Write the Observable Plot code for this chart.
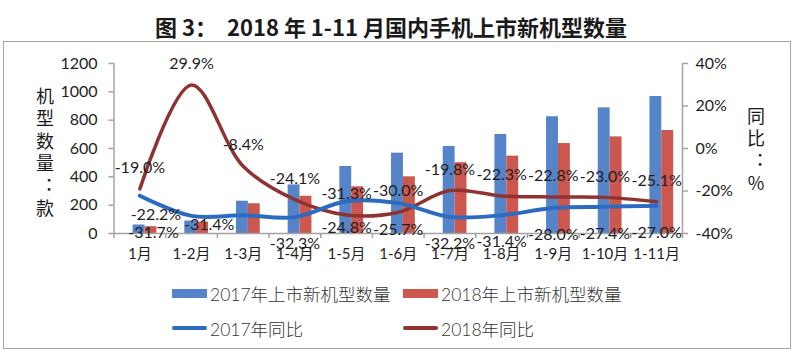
<!DOCTYPE html>
<html>
<head>
<meta charset="utf-8">
<script src="https://cdn.jsdelivr.net/npm/d3@7"></script>
<script src="https://cdn.jsdelivr.net/npm/@observablehq/plot@0.6"></script>
<style>
  html, body { margin: 0; padding: 0; background: #fff; }
  #wrap { position: relative; width: 800px; height: 361px; overflow: hidden; background: #fff; font-family: Lato, "Noto Sans CJK SC", sans-serif; }
  #frame { position: absolute; left: 3px; top: 41px; width: 788px; height: 308px; border: 1.5px solid #a6a6a6; box-sizing: border-box; }
  #title { position: absolute; left: 155px; top: 12px; font-family: "Noto Sans CJK SC", sans-serif; font-weight: 700; font-size: 22px; line-height: 28px; color: #1a1a1a; white-space: pre; }
  #chart { position: absolute; left: 0; top: 0; }
  .vlabel { position: absolute; writing-mode: vertical-lr; text-orientation: upright; font-family: "Noto Sans CJK SC", sans-serif; font-size: 18px; color: #1a1a1a; letter-spacing: 4.5px; }
  .leg { position: absolute; display: flex; align-items: center; height: 24px; font-size: 17.5px; color: #333; font-family: Lato, "Noto Sans CJK SC", sans-serif; font-weight: 300; white-space: nowrap; }
  .sw { display: inline-block; width: 35px; margin-right: 3px; }
</style>
</head>
<body>
<div id="wrap">
  <div id="frame"></div>
  <div id="chart"></div>
  <div id="title">图 3：  2018 年 1-11 月国内手机上市新机型数量</div>
  <div class="vlabel" style="left:32px; top:87px;">机型数量：款</div>
  <div class="vlabel" style="left:743px; top:107px;">同比：%</div>
  <div id="legend"></div>
</div>
<script>
// ---- data ----
const months = ["1月", "1-2月", "1-3月", "1-4月", "1-5月", "1-6月", "1-7月", "1-8月", "1-9月", "1-10月", "1-11月"];
const models2017 = [60, 88, 228, 343, 473, 567, 614, 699, 824, 887, 967];
const models2018 = [48, 80, 210, 263, 330, 400, 500, 546, 635, 682, 727];
const yoy2017 = [-22.2, -31.7, -31.4, -32.3, -24.8, -25.7, -32.2, -31.4, -28.0, -27.4, -27.0];
const yoy2018 = [-19.0, 29.9, -8.4, -24.1, -31.3, -30.0, -19.8, -22.3, -22.8, -23.0, -25.1];
const leftTicks = [0, 200, 400, 600, 800, 1000, 1200];
const rightTicks = [-40, -20, 0, 20, 40];
const seriesNames = ["2017年上市新机型数量", "2018年上市新机型数量", "2017年同比", "2018年同比"];

// ---- styles ----
const C_BAR17 = "#5585c8", C_BAR18 = "#cc574f", C_LINE17 = "#2c6cc0", C_LINE18 = "#8e3232";
const AXIS = "#a3a3a3";
const TXT = "#1e1e1e";

// map percentage (-40..40) onto the left count axis (0..1200)
const pct = p => (p + 40) * 15;
const idx = d3.range(months.length);
const fmt = v => v.toFixed(1) + "%";
const edges = d3.range(months.length + 1).map(i => i - 0.5);

const chart = Plot.plot({
  width: 800,
  height: 270,
  marginLeft: 113.5,
  marginRight: 118,
  marginTop: 63,
  marginBottom: 37,
  style: { background: "transparent", fontFamily: "Lato, 'Noto Sans CJK SC', sans-serif", fontSize: "16px", color: TXT, overflow: "visible" },
  x: { type: "linear", domain: [-0.5, 10.5], axis: null },
  y: { domain: [0, 1200], axis: null },
  marks: [
    // bars
    Plot.rectY(idx, { x1: i => i - 0.13, x2: i => i + 0.1, y: i => models2017[i], fill: C_BAR17 }),
    Plot.rectY(idx, { x1: i => i + 0.1, x2: i => i + 0.33, y: i => models2018[i], fill: C_BAR18 }),
    // axis lines
    Plot.ruleX([-0.5, 10.5], { y1: 0, y2: 1200, stroke: AXIS, strokeWidth: 1.5 }),
    Plot.ruleY([0], { x1: -0.5, x2: 10.5, stroke: AXIS, strokeWidth: 1.5 }),
    Plot.ruleX(edges, { y1: 0, y2: 0, insetBottom: -5, stroke: AXIS, strokeWidth: 1.5 }),
    // axes
    Plot.axisY({ anchor: "left", ticks: leftTicks, tickFormat: d => String(d), tickSize: 5, tickPadding: 11.5, stroke: AXIS, strokeWidth: 1.5, fill: TXT, fontSize: 16 }),
    Plot.axisY({ anchor: "right", ticks: rightTicks.map(pct), tickFormat: v => Math.round(v / 15 - 40) + "%", tickSize: 5, tickPadding: 8, stroke: AXIS, strokeWidth: 1.5, fill: TXT, fontSize: 16 }),
    Plot.axisX({ anchor: "bottom", ticks: idx, tickFormat: i => months[i], tickSize: 0, tickPadding: 15, fill: TXT, fontSize: 15 }),
    // lines
    Plot.line(idx, { x: i => i, y: i => pct(yoy2018[i]), curve: "catmull-rom", stroke: C_LINE18, strokeWidth: 3.5, strokeLinecap: "round" }),
    Plot.line(idx, { x: i => i, y: i => pct(yoy2017[i]), curve: "catmull-rom", stroke: C_LINE17, strokeWidth: 4, strokeLinecap: "round" }),
    // labels 2018 (above)
    Plot.text(idx, { x: i => i, y: i => pct(yoy2018[i]), text: i => fmt(yoy2018[i]), dy: -21, fill: TXT, fontSize: 16 }),
    // labels 2017 (below)
    Plot.text(idx.slice(3), { x: i => i, y: i => pct(yoy2017[i]), text: i => fmt(yoy2017[i]), dy: 27, fill: TXT, fontSize: 16 }),
    Plot.text([0], { x: i => i, y: i => pct(yoy2017[i]), text: i => fmt(yoy2017[i]), dx: 16, dy: 19, fill: TXT, fontSize: 16 }),
    Plot.text([1], { x: i => i, y: i => pct(yoy2017[i]), text: i => fmt(yoy2017[i]), dx: -38, dy: 17, fill: TXT, fontSize: 16 }),
    Plot.text([2], { x: i => i, y: i => pct(yoy2017[i]), text: i => fmt(yoy2017[i]), dx: -34, dy: 10, fill: TXT, fontSize: 16 })
  ]
});
document.getElementById("chart").appendChild(chart);

// ---- legend ----
const legendItems = [
  { name: seriesNames[0], color: C_BAR17, kind: "rect", left: 172, top: 281.5 },
  { name: seriesNames[1], color: C_BAR18, kind: "rect", left: 403, top: 281.5 },
  { name: seriesNames[2], color: C_LINE17, kind: "line", left: 172, top: 316 },
  { name: seriesNames[3], color: C_LINE18, kind: "line", left: 403, top: 316 }
];
const legend = document.getElementById("legend");
for (const it of legendItems) {
  const d = document.createElement("div");
  d.className = "leg";
  d.style.left = it.left + "px";
  d.style.top = it.top + "px";
  const s = document.createElement("span");
  s.className = "sw";
  s.style.background = it.color;
  s.style.height = it.kind === "rect" ? "9px" : "3.5px";
  if (it.kind === "line") s.style.borderRadius = "2px";
  d.appendChild(s);
  const t = document.createElement("span");
  t.textContent = it.name;
  d.appendChild(t);
  legend.appendChild(d);
}
</script>
</body>
</html>
